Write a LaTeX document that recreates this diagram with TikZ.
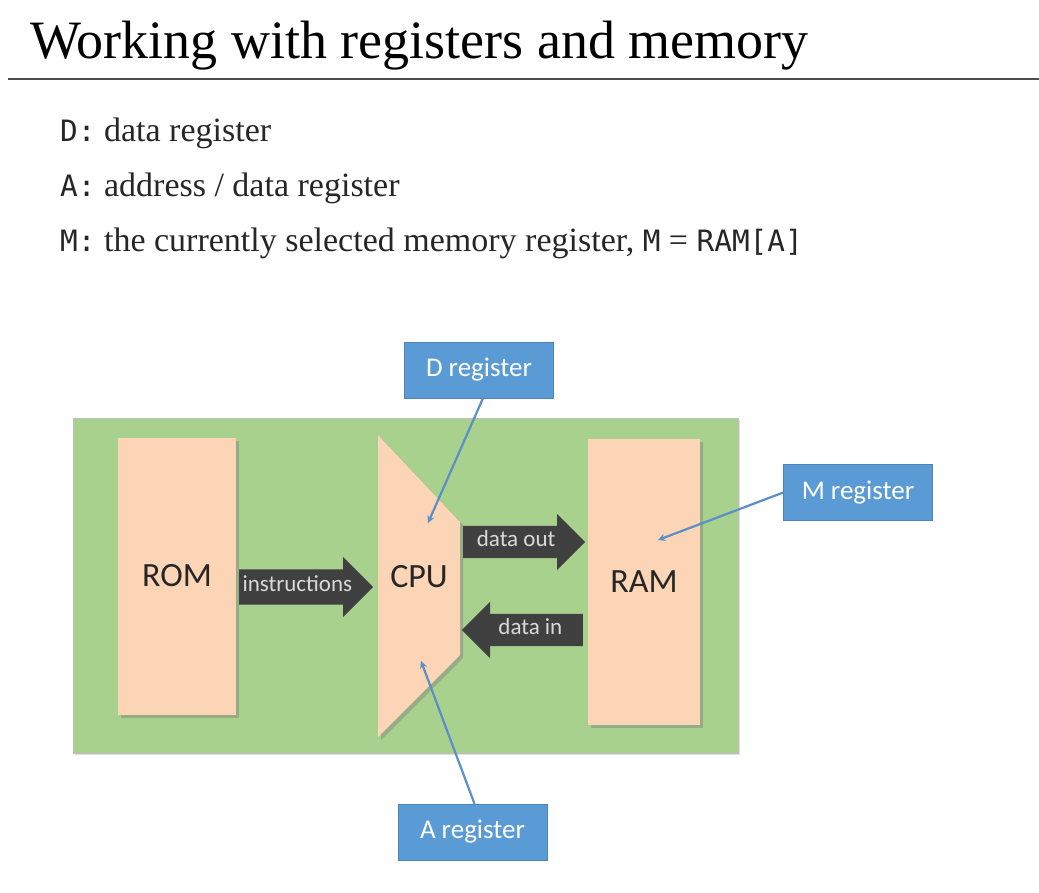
\documentclass[tikz,border=0pt]{standalone}
\usepackage{fontspec}
\setmainfont{Liberation Serif}
\newfontfamily\slidefont{Carlito}
\newfontfamily\codefont[Scale=0.865]{DejaVu Sans Mono}
\usetikzlibrary{shapes.arrows,shadows,positioning}
\definecolor{boxgreen}{HTML}{A9D18E}
\definecolor{peach}{HTML}{FBD5B5}
\definecolor{regblue}{HTML}{5B9BD5}
\definecolor{linkblue}{HTML}{5B8FC9}
\definecolor{bigarrow}{HTML}{404040}
\definecolor{arrowtext}{HTML}{D9D9D9}
\definecolor{bodytext}{HTML}{262626}

\begin{document}
\begin{tikzpicture}[
    x=1pt, y=-1pt,
    unit/.style={rectangle, fill=peach, drop shadow={shadow xshift=3pt, shadow yshift=-3pt, opacity=0.45}, font=\slidefont\fontsize{34}{34}\selectfont, text=black!85},
    flow/.style={single arrow, single arrow head extend=12.5pt, fill=bigarrow, text=arrowtext, font=\slidefont\fontsize{23}{23}\selectfont, text height=12pt, text depth=3pt, inner xsep=1pt, inner ysep=10pt, anchor=tail},
    regbox/.style={rectangle, fill=regblue, draw=regblue!85!black, text=white, font=\slidefont\fontsize{27}{27}\selectfont, minimum width=149pt, minimum height=56pt},
    arrow/.style={->, >=stealth, line width=2.2pt, draw=linkblue},
    line/.style={anchor=base west, inner sep=0pt, font=\fontsize{34}{38}\selectfont, text=bodytext}
]
    \useasboundingbox (0,0) rectangle (1039,893);

    % Heading
    \node[anchor=base west, inner sep=0pt, font=\fontsize{54}{60}\selectfont] (title) at (30,59) {Working with registers and memory};
    \draw[line width=2.5pt, black!70] (8,79) -- (1039,79);
    \node[line] (dline) at (60,142) {{\codefont D:} data register};
    \node[line] (aline) at (60,197) {{\codefont A:} address / data register};
    \node[line] (mline) at (60,252) {{\codefont M:} the currently selected memory register, {\codefont M} = {\codefont RAM[A]}};

    % Nodes
    \node[fill=boxgreen, draw=black!25, drop shadow={shadow xshift=2pt, shadow yshift=-2pt, opacity=0.25}, minimum width=665pt, minimum height=335pt] (board) at (405.5,585.5) {};
    \node[unit, minimum width=118pt, minimum height=277pt] (rom) at (177,576) {ROM};
    \node[unit, minimum width=112pt, minimum height=286pt] (ram) at (644,582) {RAM};
    \fill[peach, drop shadow={shadow xshift=3pt, shadow yshift=-3pt, opacity=0.45}] (378,435) -- (460,522) -- (460,655) -- (378,737) -- cycle;
    \node[font=\slidefont\fontsize{34}{34}\selectfont, text=black!85] (cpu) at (419,577) {CPU};

    \node[flow, minimum height=134pt] (instr) at (239,587) {instructions};
    \node[flow, minimum height=122pt, inner ysep=8.5pt, single arrow head extend=12pt] (dout) at (463,542) {data out};
    \node[flow, minimum height=121pt, inner ysep=8.5pt, single arrow head extend=12pt, shape border rotate=180] (din) at (583,630) {data in};

    \node[regbox] (dreg) at (479,370) {D register};
    \node[regbox] (mreg) at (858,492.5) {M register};
    \node[regbox] (areg) at (472.5,832) {A register};

    % Connections
    \coordinate (dtip) at (428,523);
    \coordinate (mtip) at (658,540);
    \coordinate (atip) at (421,661);
    \draw[arrow] ([xshift=4pt]dreg.south) -- (dtip);
    \draw[arrow] (mreg.west) -- (mtip);
    \draw[arrow] ([xshift=2pt]areg.north) -- (atip);
\end{tikzpicture}
\end{document}
